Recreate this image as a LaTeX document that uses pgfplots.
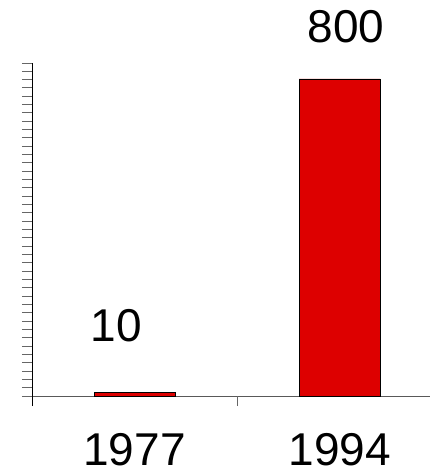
\documentclass[border=0pt]{standalone}
\usepackage{fontspec}
\setmainfont{Liberation Sans}
\usepackage{pgfplots}
\pgfplotsset{compat=1.18}
\definecolor{barred}{RGB}{221,0,0}
\begin{document}
\begin{tikzpicture}[x=1pt,y=1pt]
\useasboundingbox (0,0) rectangle (430,475);
\begin{axis}[
  at={(32pt,79pt)}, anchor=south west,
  scale only axis, width=398pt, height=333pt,
  xmin=-0.5, xmax=1.44, ymin=0, ymax=840,
  clip=false,
  axis lines*=left,
  x axis line style={gray!70!black, line width=0.9pt},
  y axis line style={black, line width=0.9pt, shorten <=-10pt},
  tick align=outside, major tick length=10pt,
  ytick={0,21,...,840}, yticklabels={},
  ytick style={gray!80!black, line width=1pt},
  xtick={0,1}, xticklabels={1977,1994},
  xtick style={draw=none},
  extra x ticks={0.5}, extra x tick labels={},
  extra x tick style={xtick style={draw=gray!80!black, line width=0.9pt}},
  xticklabel style={anchor=center, yshift=-44pt, font=\fontsize{46}{50}\selectfont},
]
\addplot[ybar, bar width=81pt, fill=barred, draw=black, line width=0.6pt] coordinates {(0,10) (1,800)};
\node[font=\fontsize{46}{50}\selectfont] at (axis cs:-0.088,177) {10};
\node[font=\fontsize{46}{50}\selectfont] at (axis cs:1.03,931) {800};
\end{axis}
\end{tikzpicture}
\end{document}
